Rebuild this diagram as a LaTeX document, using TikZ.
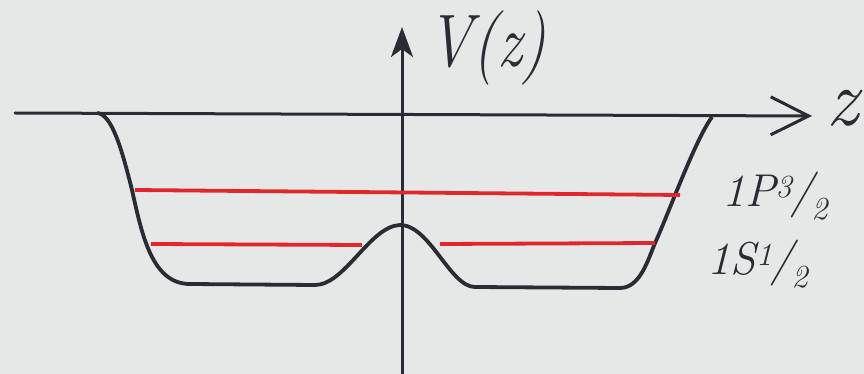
\documentclass[tikz,border=0pt]{standalone}
\usepackage{fontspec}
\usetikzlibrary{arrows.meta}
\definecolor{bg}{HTML}{E6E8E8}
\definecolor{ink}{HTML}{2A2C33}
\definecolor{lvl}{HTML}{E0282C}
\begin{document}
\begin{tikzpicture}[x=1pt,y=-1pt,
  axis/.style={ink,line width=3pt,line cap=round},
  well/.style={ink,line width=3.8pt,line join=round},
  level/.style={lvl,line width=3.8pt},
  lab/.style={ink,inner sep=0pt,font=\fontsize{46}{46}\selectfont\itshape}]
\fill[bg] (0,0) rectangle (864,374);
\useasboundingbox (0,0) rectangle (864,374);
% axes
\coordinate (xl) at (15,113);
\coordinate (xr) at (812,116);
\coordinate (yb) at (402,374);
\coordinate (yt) at (402,27);
\draw[axis,-{Straight Barb[length=38pt,width=38pt,line width=3pt]}] (xl) -- (xr);
\draw[axis,-{Stealth[length=30pt,width=22pt,inset=8pt]}] (yb) -- (yt);
% well
\draw[well] (97,113) .. controls (112,114) and (122,150) .. (132,190)
  .. controls (142,235) and (152,284) .. (190,284) -- (315,285)
  .. controls (345,285) and (370,226) .. (400,225)
  .. controls (430,225) and (450,287) .. (475,287) -- (620,288)
  .. controls (640,288) and (648,260) .. (655,243)
  .. controls (668,215) and (695,140) .. (712,117);
% levels
\coordinate (p1) at (135,190);
\coordinate (p2) at (680,195);
\coordinate (s1) at (151,244);
\coordinate (s2) at (362,245);
\coordinate (s3) at (440,244);
\coordinate (s4) at (655,243);
\draw[level] (p1) -- (p2);
\draw[level] (s1) -- (s2);
\draw[level] (s3) -- (s4);
% labels
\node[lab,font=\fontsize{62}{62}\selectfont\itshape,yscale=1.2] (vz) at (487,48) {V(z)};
\node[lab,font=\fontsize{80}{80}\selectfont\itshape] (zl) at (842,108) {z};
\node[lab] (lp) at (775,196) {1P\textsuperscript{3}\kern-2pt/\kern-2pt\textsubscript{2}};
\node[lab] (ls) at (758,264) {1S\textsuperscript{1}\kern-2pt/\kern-2pt\textsubscript{2}};
\end{tikzpicture}
\end{document}
